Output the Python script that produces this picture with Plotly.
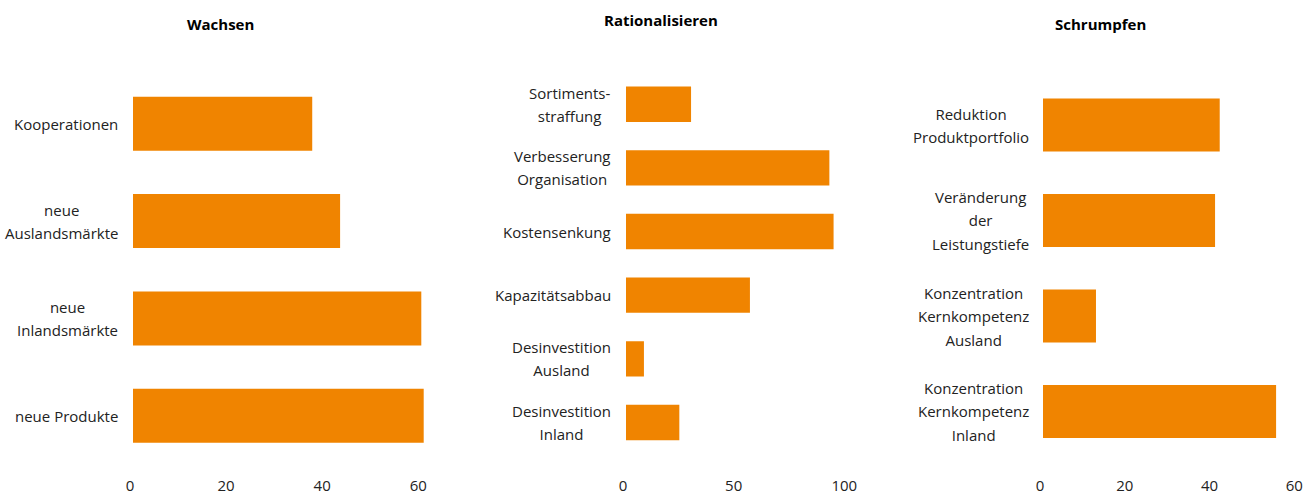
import plotly.graph_objects as go

W, H = 1316, 498

# ---- data ----
titles = ["Wachsen", "Rationalisieren", "Schrumpfen"]

cat_wachsen = ["Kooperationen", "neue<br>Auslandsmärkte", "neue<br>Inlandsmärkte", "neue Produkte"]
val_wachsen = [37.3, 43.1, 60.0, 60.5]

cat_ration = ["Sortiments-<br>straffung", "Verbesserung<br>Organisation", "Kostensenkung",
              "Kapazitätsabbau", "Desinvestition<br>Ausland", "Desinvestition<br>Inland"]
val_ration = [29.4, 91.9, 93.8, 56.0, 8.1, 24.1]

cat_schrumpf = ["Reduktion<br>Produktportfolio", "Veränderung<br>der<br>Leistungstiefe",
                "Konzentration<br>Kernkompetenz<br>Ausland", "Konzentration<br>Kernkompetenz<br>Inland"]
val_schrumpf = [41.7, 40.6, 12.5, 55.0]

ticks_wachsen = [0, 20, 40, 60]
ticks_ration = [0, 50, 100]
ticks_schrumpf = [0, 20, 40, 60]

BAR = "#F08400"
FONT = "Open Sans"
TXT = "#222222"

# ---- layout geometry (pixels) ----
panels = [
    dict(cats=cat_wachsen, vals=val_wachsen, ticks=ticks_wachsen, rng=[0, 62],
         x0=133, pxu=4.805, ytop=75.0, ybot=464.5, lab_r=120, title_x=220, title_y=24),
    dict(cats=cat_ration, vals=val_ration, ticks=ticks_ration, rng=[0, 105],
         x0=626, pxu=2.213, ytop=72.4, ybot=454.3, lab_r=613, title_x=661, title_y=20),
    dict(cats=cat_schrumpf, vals=val_schrumpf, ticks=ticks_schrumpf, rng=[0, 62],
         x0=1043, pxu=4.238, ytop=77.25, ybot=459.25, lab_r=1031, title_x=1100, title_y=24),
]

AXIS_Y = 475  # pixel row of the (invisible) x axis line

fig = go.Figure()
annotations = []
layout = dict(
    width=W, height=H, margin=dict(l=0, r=0, t=0, b=0, autoexpand=False),
    paper_bgcolor="white", plot_bgcolor="white", showlegend=False,
    bargap=0.445, font=dict(family=FONT, size=15, color=TXT),
)

for i, p in enumerate(panels):
    n = i + 1
    xa = "x" if n == 1 else f"x{n}"
    ya = "y" if n == 1 else f"y{n}"
    fig.add_trace(go.Bar(x=p["vals"], y=p["cats"], orientation="h",
                         marker=dict(color=BAR, line=dict(width=0)),
                         xaxis=xa, yaxis=ya, hoverinfo="x+y"))
    x1 = p["x0"] + (p["rng"][1] - p["rng"][0]) * p["pxu"]
    layout[f"xaxis{'' if n == 1 else n}"] = dict(
        domain=[p["x0"] / W, x1 / W], range=p["rng"], anchor="free",
        position=1 - AXIS_Y / H, tickvals=p["ticks"], showgrid=False, zeroline=False,
        showline=False, ticks="", automargin=False, ticklabelshift=-3,
        tickfont=dict(family=FONT, size=15, color=TXT),
    )
    layout[f"yaxis{'' if n == 1 else n}"] = dict(
        domain=[1 - p["ybot"] / H, 1 - p["ytop"] / H], anchor=xa,
        autorange="reversed", showticklabels=False, showgrid=False,
        zeroline=False, showline=False, ticks="", automargin=False,
        categoryorder="array", categoryarray=p["cats"],
    )
    # category labels: block right-aligned, lines centered
    for c in p["cats"]:
        txt = "<br>".join(f'<span style="font-size:15px">{ln}</span>' for ln in c.split("<br>"))
        annotations.append(dict(
            text=txt, xref="paper", yref=ya, x=p["lab_r"] / W, y=c,
            xanchor="right", yanchor="middle", align="center", showarrow=False,
            font=dict(family=FONT, size=18, color=TXT),
        ))
    annotations.append(dict(
        text=f"<b>{titles[i]}</b>", xref="paper", yref="paper",
        x=p["title_x"] / W, y=1 - p["title_y"] / H, xanchor="center", yanchor="middle",
        showarrow=False, font=dict(family=FONT, size=15, color="#000000"),
    ))

layout["annotations"] = annotations
fig.update_layout(**layout)
fig.write_html(
    "out.html",
    config={"responsive": False, "displayModeBar": False},
    post_script="document.body.style.margin='0';document.body.style.overflow='hidden';",
)
